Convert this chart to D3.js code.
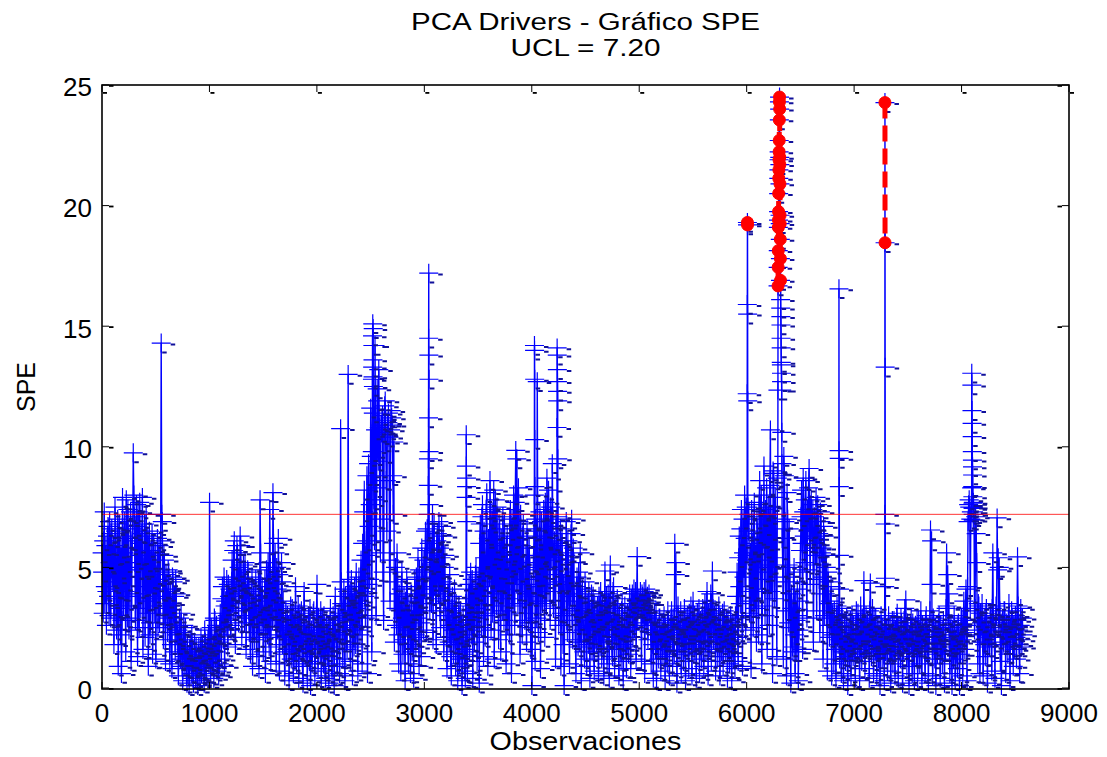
<!DOCTYPE html>
<html>
<head>
<meta charset="utf-8">
<script src="https://cdn.jsdelivr.net/npm/d3@7"></script>
<style>
  body { margin: 0; background: #fff; }
  svg { display: block; }
  text { font-family: "Liberation Sans", Arial, sans-serif; fill: #000; }
</style>
</head>
<body>
<svg id="chart" width="1107" height="757"></svg>
<script>
// ---- Labels -------------------------------------------------------------
const titleLines = ["PCA Drivers - Gráfico SPE", "UCL = 7.20"];
const xLabel = "Observaciones";
const yLabel = "SPE";
const ucl = 7.20;
const xTicks = [0, 1000, 2000, 3000, 4000, 5000, 6000, 7000, 8000, 9000];
const yTicks = [0, 5, 10, 15, 20, 25];

// ---- SPE series ---------------------------------------------------------
// Series A: one SPE value every 10 observations, starting at obs 1.
const sampleStep = 10;
const spe0000 = [5.6,3.1,7.3,4.2,2.6,6.3,3.8,6.9,2.9,6.6, 4.4,1.8,7.5,3.0,5.5,0.9,6.8,2.2,0.6,7.9,
  3.4,6.9,1.5,5.2,7.4,2.4,4.6,1.1,6.1,9.75, 7.1,2.8,7.6,1.3,4.9,7.7,3.3,6.4,1.6,5.0,
  2.1,7.2,3.6,0.9,6.5,2.7,4.3,1.4,6.0,3.1, 1.2,4.7,2.5,5.9,3.4,14.3,6.9,2.0,5.3,1.1,
  4.1,2.3,4.8,1.0,3.5,0.8,4.4,2.6,1.5,3.9, 1.8,0.5,2.9,1.2,2.3,0.3,2.6,0.9,1.6,0.2,
  1.3,0.1,2.0,0.6,1.5,0.2,1.9,0.4,1.0,0.1, 1.7,0.3,2.1,0.8,1.4,0.2,1.9,0.5,1.2,2.2];
const spe1000 = [7.7,0.6,2.4,1.1,0.4,2.8,1.5,0.7,2.2,1.0, 3.1,1.2,4.2,2.0,0.9,3.6,4.5,1.7,2.8,4.1,
  2.4,5.3,3.2,6.1,1.8,4.6,5.6,2.7,3.9,5.9, 2.1,4.4,3.0,5.2,1.6,3.7,4.8,2.3,1.4,3.3,
  0.9,3.8,2.0,4.5,1.3,3.1,0.8,7.8,2.6,4.2, 1.5,3.6,0.6,4.9,2.2,3.3,7.4,1.1,4.4,8.1,
  2.9,5.6,1.0,4.1,6.2,0.7,3.5,5.2,1.8,2.6, 0.5,3.2,1.6,2.5,0.3,2.9,1.2,3.3,0.6,2.0,
  4.2,1.0,2.7,0.4,3.1,1.5,2.2,0.2,4.0,1.3, 2.6,0.3,3.0,1.1,0.1,2.4,1.7,3.2,0.5,1.9];
const spe2000 = [4.3,0.8,2.5,1.4,0.3,2.9,1.0,2.1,0.4,2.7, 1.3,0.2,2.6,1.7,0.5,3.0,0.1,3.8,2.0,0.9,
  2.4,0.6,10.75,3.5,1.2,4.1,0.3,2.8,1.6,13.0, 3.9,1.1,4.5,0.5,2.6,4.2,1.8,3.3,0.7,4.6,
  2.2,5.3,1.0,4.0,8.2,2.9,6.1,0.6,9.3,4.5, 11.6,1.5,15.1,7.8,14.2,3.0,12.4,9.4,10.8,5.6,
  10.6,11.3,2.8,11.7,10.2,6.5,11.0,10.4,3.6,11.5, 10.9,7.2,1.9,5.0,2.6,4.4,1.0,3.6,0.7,4.8,
  1.4,3.8,0.3,2.5,4.2,1.0,3.1,0.6,3.9,2.0, 0.4,4.5,1.7,2.9,5.4,0.9,3.7,1.3,4.8,2.4];
const spe3000 = [4.1,6.5,2.3,5.7,7.0,3.2,6.1,4.6,2.0,6.8, 5.2,1.8,6.4,3.9,5.8,2.5,6.7,4.4,1.5,5.5,
  3.0,0.8,4.3,1.9,2.6,0.5,3.8,1.4,4.1,0.9, 2.7,0.3,3.4,1.2,2.1,0.1,3.0,1.6,0.4,2.5,
  0.6,3.7,1.5,4.8,2.2,0.4,4.1,2.9,5.0,1.1, 4.6,0.2,6.8,2.5,7.6,1.3,5.4,3.0,8.1,0.9,
  6.2,8.6,2.4,7.3,4.0,1.2,7.8,3.4,5.7,2.0, 6.6,1.5,4.9,7.1,2.8,5.6,1.0,6.3,3.7,2.2,
  7.4,0.6,5.1,8.0,2.6,9.85,9.5,3.5,6.9,1.4, 5.9,2.2,6.8,3.1,4.5,1.9,6.2,2.7,5.0,1.6];
const spe4000 = [0.1,3.8,6.5,1.1,4.6,12.7,2.3,5.8,0.8,6.9, 3.5,7.4,2.1,5.3,8.7,4.0,6.6,2.8,7.0,9.3,
  3.3,6.1,1.2,4.7,7.2,2.6,5.5,0.9,6.4,1.8, 0.1,4.4,6.9,2.3,5.6,1.0,3.8,7.0,2.0,5.2,
  3.2,0.6,4.6,1.7,2.8,5.6,0.3,4.1,2.4,1.2, 3.6,0.9,2.5,4.0,0.4,3.1,1.5,3.8,0.7,2.7,
  1.9,3.4,0.6,2.8,4.0,1.2,3.5,0.5,4.85,2.2, 1.0,3.9,0.4,5.1,2.6,1.3,4.2,0.8,3.0,1.7,
  3.3,0.5,2.4,1.1,3.5,0.3,2.9,1.6,0.8,3.1, 1.4,3.9,0.8,3.5,2.1,4.1,3.3,1.2,5.45,3.7];
const spe5000 = [3.4,4.0,1.1,3.8,3.2,0.6,4.1,3.6,2.0,3.9, 3.5,1.0,2.7,0.4,3.1,1.6,0.3,2.4,1.2,2.9,
  0.7,2.6,1.4,3.0,0.3,2.1,1.0,2.8,0.5,1.8, 3.2,0.9,2.2,6.0,5.2,0.2,3.4,1.5,2.7,0.6,
  2.5,1.1,3.3,0.3,2.0,3.0,0.8,1.7,3.4,0.5, 3.6,1.4,2.6,0.4,3.1,1.9,0.6,2.8,1.2,3.3,
  0.9,3.5,1.6,4.0,0.5,2.3,3.2,1.1,4.85,2.0, 3.0,0.7,2.5,1.3,3.4,0.5,2.1,1.8,0.9,3.2,
  1.5,2.8,0.4,2.2,1.0,3.0,0.3,1.9,2.6,0.8, 2.9,4.8,1.1,6.3,3.5,7.4,0.9,5.6,8.0,2.4];
const spe6000 = [5.3,1.4,7.2,3.6,0.8,6.0,2.5,7.7,4.1,1.9, 6.4,2.2,8.6,4.5,1.0,7.1,9.2,3.0,5.8,1.6,
  7.5,2.6,10.7,5.1,0.6,8.9,3.7,6.6,1.3,9.4, 8.3,3.1,9.9,6.2,1.2,8.8,4.4,0.5,7.0,2.7,
  4.6,0.2,3.3,1.5,5.0,0.6,2.8,4.1,0.3,3.6, 5.7,8.2,1.6,7.3,5.2,8.6,2.9,6.5,9.1,4.3,
  7.8,6.0,1.9,7.1,5.5,3.2,7.6,6.4,2.3,6.9, 5.8,1.2,6.3,3.9,5.0,0.7,4.4,2.1,3.6,0.5,
  3.1,1.0,2.6,0.4,3.4,1.8,0.9,2.7,0.6,2.3, 0.3,2.5,1.1,2.9,0.1,1.8,2.4,0.5,3.0,1.3];
const spe7000 = [2.0,0.4,3.2,1.5,2.7,0.3,3.4,1.1,2.2,4.45, 0.8,3.0,1.7,2.5,0.4,4.35,1.3,3.3,0.6,2.1,
  2.9,0.5,1.8,2.6,0.1,3.0,1.2,2.2,0.3,1.6, 2.5,0.7,3.0,1.4,0.2,2.3,1.0,2.8,0.5,1.9,
  3.1,0.4,2.1,1.2,2.7,0.2,1.6,3.3,3.65,0.9, 2.4,0.1,1.7,2.9,0.6,2.0,0.3,2.6,1.3,0.4,
  2.8,1.0,3.2,0.3,1.9,2.5,0.6,3.0,1.4,0.2, 2.2,6.55,6.1,0.5,2.7,1.2,0.1,2.4,1.6,3.0,
  0.4,2.1,1.0,2.8,0.2,1.5,5.6,4.7,3.9,0.6, 2.5,0.1,1.8,3.0,0.3,2.2,0.8,2.7,0.1,1.4];
const spe8000 = [2.9,0.5,3.6,1.6,4.1,0.3,6.9,7.8,3.2,7.3, 9.1,7.6,2.4,7.1,5.2,1.0,3.4,0.6,2.2,3.5,
  0.5,2.9,1.3,3.3,0.2,2.4,1.7,3.0,0.7,5.6, 2.6,0.4,3.4,7.05,5.4,5.0,1.1,0.1,2.8,1.9,
  3.2,0.6,2.5,1.4,3.5,0.3,2.0,2.9,0.9,1.6, 3.0,1.2,5.44,2.4,0.6,3.3,1.7,2.2];

// Series B: one SPE value every 10 observations, starting at obs 6.
const mid0000 = [4.8,6.1,3.5,5.9,4.0,6.7,3.0,5.2,6.4,4.6, 5.9,3.7,6.5,2.4,7.0,4.1,3.3,5.8,2.8,6.3,
  5.6,4.0,7.8,2.9,6.2,5.0,7.3,3.8,6.6,8.0, 5.2,6.7,3.9,7.3,2.5,6.0,5.5,7.9,4.2,6.8,
  4.9,3.1,6.3,5.0,2.2,5.7,6.4,3.7,4.5,5.6, 3.8,6.2,4.4,2.7,6.1,7.2,4.0,5.5,3.0,4.7,
  3.3,4.9,2.9,4.0,1.8,4.6,3.1,3.8,4.5,2.2, 2.4,1.4,2.0,3.1,0.9,1.9,1.3,2.5,0.5,1.7,
  0.8,1.6,1.1,2.2,0.4,1.2,0.9,1.7,0.3,1.4, 0.9,1.5,0.6,1.8,1.1,2.4,0.7,1.6,2.0,1.0];
const mid1000 = [1.9,2.5,0.9,1.8,2.9,1.2,2.6,1.9,0.5,2.5, 2.2,3.7,2.9,4.6,3.4,2.5,3.0,4.3,3.8,2.6,
  4.4,3.5,5.7,4.0,3.3,5.9,4.2,5.0,6.3,4.5, 3.6,5.1,2.7,4.3,3.9,4.9,3.2,4.1,2.9,4.6,
  2.9,2.3,4.0,3.4,2.6,4.4,2.1,5.6,3.7,2.9, 3.0,4.5,2.4,3.8,5.2,1.7,5.0,3.6,2.8,6.0,
  4.3,3.2,5.0,2.4,4.7,3.3,2.1,4.4,3.6,1.5, 2.2,1.4,3.0,2.6,1.8,3.4,2.3,1.5,3.0,1.1,
  2.8,2.1,3.4,1.6,2.0,3.2,0.9,2.6,2.9,1.9, 1.5,2.2,1.8,3.3,2.0,1.0,3.1,2.3,1.4,3.0];
const mid2000 = [2.0,2.9,1.7,3.2,2.2,1.6,3.0,0.7,2.4,1.5, 2.6,1.9,3.3,0.9,2.4,1.9,2.8,2.3,1.0,2.9,
  3.1,2.2,4.4,1.9,3.4,2.6,3.8,1.9,4.0,3.2, 2.5,4.0,3.0,3.9,1.7,3.5,4.8,2.4,3.6,2.9,
  4.6,3.4,6.0,7.3,3.8,5.5,8.8,4.3,6.7,7.6, 9.6,12.9,14.0,6.1,10.7,8.3,11.9,13.2,7.0,10.9,
  11.1,4.8,10.5,11.9,8.6,10.9,11.4,5.3,10.7,11.2, 8.8,10.2,4.4,3.3,5.6,2.2,3.9,2.5,4.1,2.9,
  2.9,2.0,3.6,4.5,1.8,3.4,2.4,3.9,1.5,3.2, 3.4,2.2,4.6,3.8,2.1,4.9,2.7,5.8,3.5,5.3];
const mid3000 = [5.4,3.9,6.6,4.5,6.0,5.1,3.5,7.2,5.6,4.2, 3.7,6.1,4.6,6.9,3.2,5.4,4.0,6.3,5.0,3.6,
  2.1,3.6,2.8,4.7,1.3,3.3,2.4,3.0,2.0,3.5, 1.8,2.5,1.0,3.2,2.6,1.4,2.2,0.7,3.5,1.3,
  2.8,4.3,3.2,2.6,4.5,3.5,1.9,4.7,3.3,4.0, 3.5,6.0,4.2,7.1,3.8,6.5,2.1,7.4,5.0,6.2,
  4.6,7.0,5.5,3.1,8.2,6.0,4.4,7.5,3.9,6.8, 4.4,6.2,3.2,5.3,6.8,4.1,5.9,2.6,5.0,7.0,
  5.5,7.0,3.4,6.2,7.7,4.3,6.6,8.3,4.8,7.2, 4.0,6.3,4.9,2.8,5.5,6.6,3.9,5.8,3.1,4.3];
const mid4000 = [2.5,5.2,3.4,7.0,2.9,6.3,4.2,7.3,3.6,5.0, 5.6,4.3,7.7,3.4,6.2,8.2,4.9,7.5,5.4,6.7,
  5.0,4.0,7.0,3.5,5.9,4.4,6.6,3.1,5.3,4.3, 3.0,5.5,2.8,6.1,3.8,4.6,6.4,3.0,5.8,3.6,
  2.0,4.2,3.3,4.8,1.9,3.9,2.6,3.4,1.5,4.4, 2.4,3.5,1.8,3.2,2.6,3.9,2.2,1.7,3.4,2.0,
  3.2,2.0,3.8,1.7,2.9,3.6,1.9,3.1,2.5,3.8, 2.8,2.1,3.5,2.9,1.6,4.0,2.2,3.4,2.0,3.7,
  2.0,3.0,1.6,3.2,2.3,1.8,3.4,2.5,3.0,1.7, 3.0,2.4,3.7,3.9,3.3,2.5,4.0,3.6,2.9,3.4];
const mid5000 = [3.7,3.3,3.9,2.7,4.0,3.5,2.6,3.8,3.5,3.1, 2.3,3.0,1.8,2.6,2.0,3.2,2.4,1.6,2.9,2.1,
  2.2,1.6,2.7,1.9,2.5,1.3,3.2,1.9,2.4,2.9, 2.3,2.9,1.4,4.7,2.6,1.9,2.8,2.2,3.2,1.9,
  2.8,2.2,1.6,2.9,2.4,1.5,3.1,2.4,1.9,2.8, 2.0,3.0,1.8,2.7,2.3,3.3,2.0,1.5,3.0,2.3,
  2.7,1.9,3.6,2.5,3.1,1.7,3.9,2.6,3.3,2.8, 2.2,3.2,1.9,2.8,2.3,2.9,1.5,3.1,2.4,2.0,
  2.6,1.9,2.9,1.5,2.4,2.0,2.7,1.3,2.2,3.0, 3.8,2.1,5.4,4.2,6.6,3.0,7.0,4.6,6.2,7.5];
const mid6000 = [4.4,6.5,3.1,5.6,7.4,4.0,6.8,3.3,5.9,7.0, 4.0,7.6,5.3,8.0,3.4,6.2,4.8,7.4,8.3,5.0,
  6.1,8.4,4.0,7.2,9.0,5.4,7.9,4.6,8.7,6.3, 6.8,9.3,7.4,5.0,9.6,6.9,3.2,8.1,5.1,6.6,
  2.5,3.9,1.7,4.4,2.2,3.6,1.5,3.0,2.4,4.8, 7.1,6.0,8.7,6.3,7.8,4.9,7.4,8.3,6.2,7.6,
  6.6,7.4,5.1,6.2,7.9,5.8,6.9,4.5,7.3,5.6, 4.6,6.7,3.0,5.5,2.9,4.8,3.5,2.6,4.2,3.0,
  2.2,3.2,1.6,2.9,2.1,3.1,2.0,1.6,3.3,1.5, 1.9,1.3,2.6,1.7,2.3,1.2,2.8,2.0,1.5,2.6];
const mid7000 = [1.6,2.6,2.0,3.1,1.8,2.2,1.4,2.9,1.7,2.6, 2.3,1.6,2.8,2.0,3.2,2.4,2.7,1.8,2.9,1.5,
  1.6,2.5,1.2,2.2,1.8,2.1,2.5,1.4,2.7,2.0, 1.6,2.4,1.9,2.6,1.5,2.8,2.1,1.6,2.4,2.9,
  1.8,2.6,1.5,2.9,2.0,2.4,2.8,1.8,2.2,2.7, 1.5,2.2,2.6,1.8,2.7,1.3,2.3,1.9,2.9,1.7,
  1.9,2.4,1.7,2.6,2.2,1.5,2.8,1.9,2.5,2.0, 3.2,4.3,2.0,2.9,1.6,2.5,2.0,1.4,2.7,2.2,
  2.6,1.5,2.4,1.8,2.2,3.3,3.4,2.7,2.0,2.4, 1.7,2.4,1.2,2.3,2.0,1.4,2.6,1.9,2.2,2.9];
const mid8000 = [2.0,2.8,2.3,3.3,2.6,4.2,7.6,7.5,7.0,7.9, 7.4,7.2,3.3,6.4,2.8,3.5,2.2,3.1,2.7,1.9,
  2.4,1.8,3.1,2.2,2.6,1.7,2.9,2.1,3.3,2.7, 1.9,2.6,3.0,4.9,2.5,3.2,2.2,2.7,1.8,3.2,
  2.3,2.7,1.8,2.9,2.1,2.5,3.2,1.7,2.6,2.4, 2.1,2.8,3.4,1.8,2.6,2.0,2.9];

// Runs of consecutive observations (step 1) around the tallest excursions.
const burst2516 = [9.8, 12.8, 14.6, 13.3, 15.1, 14.2, 13.6, 12.9, 14.9, 11.4, 12.5, 8.8];
const burst3036 = [7.2, 8.4, 9.5, 11.2, 14.5, 17.2, 13.8, 12.8, 9.8, 7.6];
const burst3388 = [3.2, 7.9, 10.5, 9.2, 8.7, 8.35, 6.9, 2.4];
const burst4024 = [8.0, 14.2, 14.0, 12.8, 10.3, 8.35, 5.1];
const burst4234 = [6.0, 10.8, 14.1, 13.8, 13.2, 12.7, 12.3, 11.9, 9.5, 7.1];
const burst6004 = [5.5, 12.2, 15.9, 19.3, 19.2, 15.5, 11.9, 7.5];
const burst6290 = [8.9, 12.35, 16.67, 17.44, 18.13, 19.1, 19.4, 19.75, 20.5, 21.13, 21.48, 21.9,
  22.23, 22.7, 23.55, 24.3, 24.5, 24.0, 22.0, 21.7, 20.9, 19.6, 19.25, 18.6, 17.8, 16.9,
  16.1, 15.75, 15.4, 15.05, 14.5, 14.1, 13.5, 13.4, 13.05, 12.7, 12.35, 10.6, 9.3];
const burst6858 = [2.8, 16.55, 9.84, 9.52, 8.35, 5.5, 4.1, 1.2];
const burst7284 = [3.0, 4.2, 7.2, 24.27, 18.46, 13.3, 6.8, 4.55, 1.5];
const burst8094 = [8.3, 13.05, 12.56, 11.5, 10.97, 10.42, 9.8, 9.45, 9.17, 8.83, 8.35, 7.93,
  7.66, 7.45, 7.2, 6.96, 7.7, 7.3, 7.5];
const burstStarts = [2516, 3036, 3388, 4024, 4234, 6004, 6290, 6858, 7284, 8094];
const burstValues = [burst2516, burst3036, burst3388, burst4024, burst4234, burst6004,
  burst6290, burst6858, burst7284, burst8094];

// Observations flagged as faults (drawn in red).
const faultObs = [6007, 6008,
  6292, 6293, 6294, 6295, 6296, 6297, 6298, 6299, 6300, 6301, 6302, 6303,
  6304, 6305, 6306, 6307, 6308, 6309, 6310, 6311, 6312, 6313, 6314, 6315,
  7287, 7288];

// ---- Build the series ----------------------------------------------------
const seriesA = [spe0000, spe1000, spe2000, spe3000, spe4000, spe5000, spe6000, spe7000, spe8000]
  .flat().map((v, i) => ({ obs: 1 + sampleStep * i, spe: v }));
const seriesB = [mid0000, mid1000, mid2000, mid3000, mid4000, mid5000, mid6000, mid7000, mid8000]
  .flat().map((v, i) => ({ obs: 6 + sampleStep * i, spe: v }));
const runs = burstStarts.map((s, k) => ({ start: s, values: burstValues[k] }));
const inRun = o => runs.some(r => o >= r.start && o < r.start + r.values.length);
const detail = runs.flatMap(r => r.values.map((v, j) => ({ obs: r.start + j, spe: v })));
const series = seriesA.concat(seriesB).filter(d => !inRun(d.obs))
  .concat(detail).sort((a, b) => a.obs - b.obs);
const byObs = new Map(series.map(d => [d.obs, d.spe]));

// ---- Scales ---------------------------------------------------------------
const box = { left: 102, right: 1069, top: 85, bottom: 688 };
const x = d3.scaleLinear().domain([0, 9000]).range([box.left, box.right]);
const y = d3.scaleLinear().domain([0, 25]).range([box.bottom, box.top]);

const svg = d3.select("#chart");
svg.append("rect").attr("width", 1107).attr("height", 757).attr("fill", "#fff");

// ---- Blue SPE trace with "+" markers ---------------------------------------
const blue = "#0000ff";
svg.append("path")
  .datum(series)
  .attr("fill", "none")
  .attr("stroke", blue)
  .attr("stroke-width", 1.4)
  .attr("stroke-linejoin", "round")
  .attr("d", d3.line().x(d => x(d.obs)).y(d => y(d.spe)));

const arm = 9.5;
let plusPath = "", shadowPath = "";
series.forEach(d => {
  const px = x(d.obs), py = y(d.spe);
  plusPath += `M${px - arm},${py}H${px + arm}M${px},${py - arm}V${py + arm}`;
  shadowPath += `M${px + arm},${py + 0.4}h4.5v2h-4.5zM${px + 1},${py + arm - 1.2}h4.5v2h-4.5z`;
});
svg.append("path").attr("d", plusPath).attr("fill", "none").attr("stroke", blue).attr("stroke-width", 1.2);
svg.append("path").attr("d", shadowPath).attr("fill", "#10109a");

// ---- UCL line ----------------------------------------------------------------
svg.append("line")
  .attr("x1", box.left).attr("x2", box.right)
  .attr("y1", y(ucl)).attr("y2", y(ucl))
  .attr("stroke", "#ff0000").attr("stroke-width", 0.8);

// ---- Fault observations: red dashed line + filled circles --------------------
const faults = faultObs.map(o => ({ obs: o, spe: byObs.get(o) }));
const faultLine = [];
faults.forEach((d, i) => {
  if (i > 0 && d.obs - faults[i - 1].obs > 1) faultLine.push(null);
  faultLine.push(d);
});
svg.append("path")
  .datum(faultLine)
  .attr("fill", "none")
  .attr("stroke", "#ff0000")
  .attr("stroke-width", 5)
  .attr("stroke-dasharray", "16 7")
  .attr("d", d3.line().defined(d => d !== null).x(d => x(d.obs)).y(d => y(d.spe)));
svg.append("g").selectAll("circle").data(faults).join("circle")
  .attr("cx", d => x(d.obs)).attr("cy", d => y(d.spe)).attr("r", 6)
  .attr("fill", "#ff0000").attr("stroke", "#ff0000").attr("stroke-width", 1);

// ---- Axes box and ticks ---------------------------------------------------------
const axisG = svg.append("g");
axisG.append("rect")
  .attr("x", box.left).attr("y", box.top)
  .attr("width", box.right - box.left).attr("height", box.bottom + 1 - box.top)
  .attr("fill", "none").attr("stroke", "#000").attr("stroke-width", 1.6);

const tickLen = 7;
xTicks.forEach(t => {
  const px = x(t);
  axisG.append("line").attr("x1", px).attr("x2", px).attr("y1", box.top).attr("y2", box.top + tickLen)
    .attr("stroke", "#000").attr("stroke-width", 1);
  axisG.append("rect").attr("x", px + 1).attr("y", box.top + tickLen).attr("width", 4).attr("height", 1.8).attr("fill", "#000");
  axisG.append("line").attr("x1", px).attr("x2", px).attr("y1", box.bottom + 1).attr("y2", box.bottom + 1 - tickLen)
    .attr("stroke", "#000").attr("stroke-width", 1);
});
yTicks.forEach(t => {
  const py = y(t);
  axisG.append("line").attr("x1", box.left).attr("x2", box.left + tickLen).attr("y1", py).attr("y2", py)
    .attr("stroke", "#000").attr("stroke-width", 1);
  axisG.append("rect").attr("x", box.left + tickLen).attr("y", py).attr("width", 4.5).attr("height", 1.8).attr("fill", "#000");
  axisG.append("line").attr("x1", box.right).attr("x2", box.right - tickLen).attr("y1", py).attr("y2", py)
    .attr("stroke", "#000").attr("stroke-width", 1);
  axisG.append("rect").attr("x", box.right - tickLen - 4.5).attr("y", py).attr("width", 4.5).attr("height", 1.8).attr("fill", "#000");
});

// Tick labels
axisG.selectAll(".xt").data(xTicks).join("text")
  .attr("x", d => x(d)).attr("y", 722)
  .attr("text-anchor", "middle").attr("font-size", 26)
  .text(d => d);
axisG.selectAll(".yt").data(yTicks).join("text")
  .attr("x", 92).attr("y", d => y(d) + 2).attr("dy", "0.36em")
  .attr("text-anchor", "end").attr("font-size", 26)
  .text(d => d);

// ---- Titles ---------------------------------------------------------------------
const cx = (box.left + box.right) / 2;
svg.append("text").attr("x", cx).attr("y", 30).attr("text-anchor", "middle")
  .attr("font-size", 23).attr("textLength", 349).attr("lengthAdjust", "spacingAndGlyphs")
  .text(titleLines[0]);
svg.append("text").attr("x", cx).attr("y", 56).attr("text-anchor", "middle")
  .attr("font-size", 23).attr("textLength", 150).attr("lengthAdjust", "spacingAndGlyphs")
  .text(titleLines[1]);
svg.append("text").attr("x", cx).attr("y", 750).attr("text-anchor", "middle")
  .attr("font-size", 25).attr("textLength", 192).attr("lengthAdjust", "spacingAndGlyphs")
  .text(xLabel);
svg.append("text").attr("transform", "translate(35,387) rotate(-90)").attr("text-anchor", "middle")
  .attr("font-size", 26).attr("textLength", 50).attr("lengthAdjust", "spacingAndGlyphs")
  .text(yLabel);
</script>
</body>
</html>
